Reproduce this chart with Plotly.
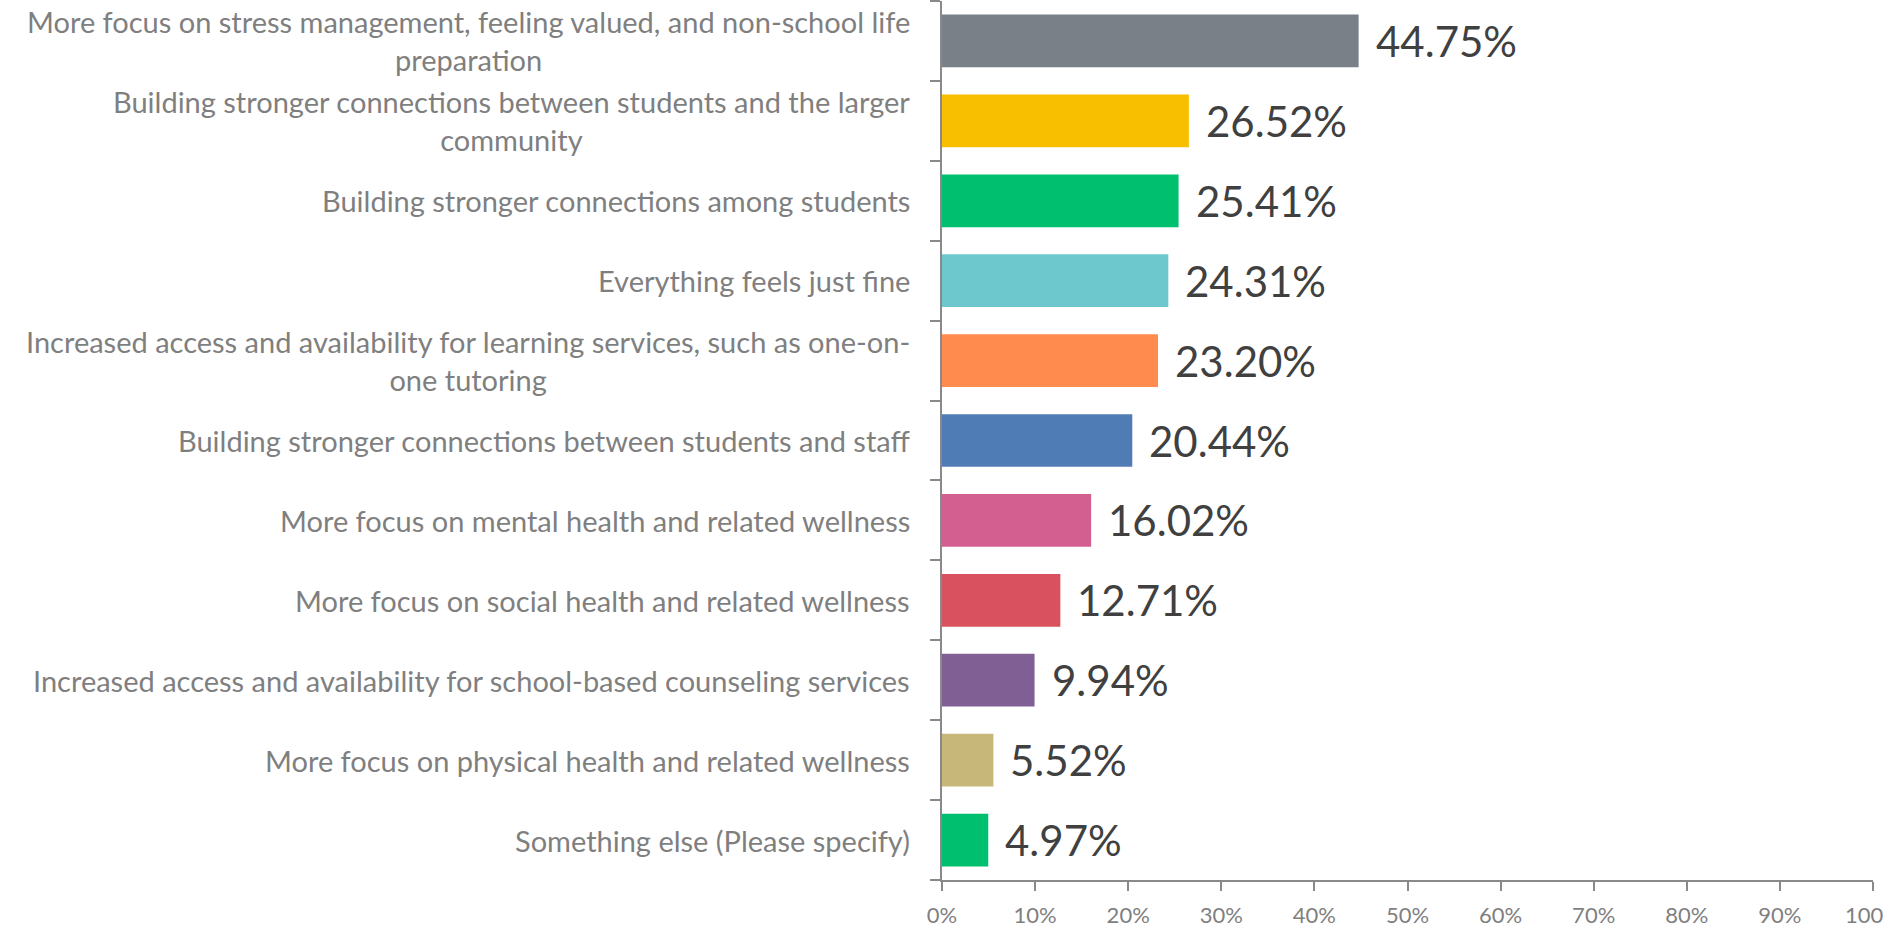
import plotly.graph_objects as go

categories = [
    "More focus on stress management, feeling valued, and non-school life<br>preparation",
    "Building stronger connections between students and the larger<br>community",
    "Building stronger connections among students",
    "Everything feels just fine",
    "Increased access and availability for learning services, such as one-on-<br>one tutoring",
    "Building stronger connections between students and staff",
    "More focus on mental health and related wellness",
    "More focus on social health and related wellness",
    "Increased access and availability for school-based counseling services",
    "More focus on physical health and related wellness",
    "Something else (Please specify)",
]
values = [44.75, 26.52, 25.41, 24.31, 23.20, 20.44, 16.02, 12.71, 9.94, 5.52, 4.97]
value_labels = ["44.75%", "26.52%", "25.41%", "24.31%", "23.20%", "20.44%",
                "16.02%", "12.71%", "9.94%", "5.52%", "4.97%"]
colors = ["#7a8088", "#f8bf00", "#00bf6f", "#6cc8cc", "#ff8b4f", "#507cb6",
          "#d25f90", "#d9515e", "#7f5f94", "#c7b879", "#00bf6f"]
x_ticks = list(range(0, 101, 10))

FONT = "Lato"
ids = list(range(len(categories)))

fig = go.Figure()
fig.add_trace(go.Bar(
    x=values, y=ids, orientation="h",
    marker=dict(color=colors, line=dict(width=0)),
    width=0.66, hoverinfo="skip",
))

annotations = []
for i, (c, v, t) in enumerate(zip(categories, values, value_labels)):
    annotations.append(dict(
        x=0, xref="paper", y=i, yref="y", text=c, showarrow=False,
        xanchor="right", yanchor="middle", align="center", xshift=-30,
        font=dict(family=FONT, size=29, color="#7f7f7f"),
    ))
    annotations.append(dict(
        x=v, xref="x", y=i, yref="y", text=t, showarrow=False,
        xanchor="left", yanchor="middle", xshift=15,
        font=dict(family=FONT, size=42, color="#404040"),
    ))

fig.update_layout(
    width=1883, height=930,
    margin=dict(l=942, r=10, t=1, b=50, autoexpand=False),
    paper_bgcolor="white", plot_bgcolor="white",
    showlegend=False,
    annotations=annotations,
    xaxis=dict(
        range=[0, 100], tickvals=x_ticks, ticktext=[f"{v}%" for v in x_ticks],
        showgrid=False, zeroline=False, automargin=False,
        showline=True, linecolor="#898989", linewidth=1.5,
        ticks="outside", ticklen=9, tickcolor="#898989", tickwidth=1.5,
        tickfont=dict(family=FONT, size=22, color="#7f7f7f"),
        ticklabelstandoff=6, ticklabeloverflow="allow",
    ),
    yaxis=dict(
        type="linear", range=[10.5, -0.5], automargin=False,
        tickvals=[i - 0.5 for i in range(len(categories) + 1)],
        showticklabels=False, showgrid=False, zeroline=False,
        showline=True, linecolor="#898989", linewidth=1.5,
        ticks="outside", ticklen=10, tickcolor="#898989", tickwidth=1.5,
    ),
)

fig.write_html(
    "out.html",
    config={"displayModeBar": False},
    post_script="document.body.style.margin='0';document.body.style.overflow='hidden';",
)
